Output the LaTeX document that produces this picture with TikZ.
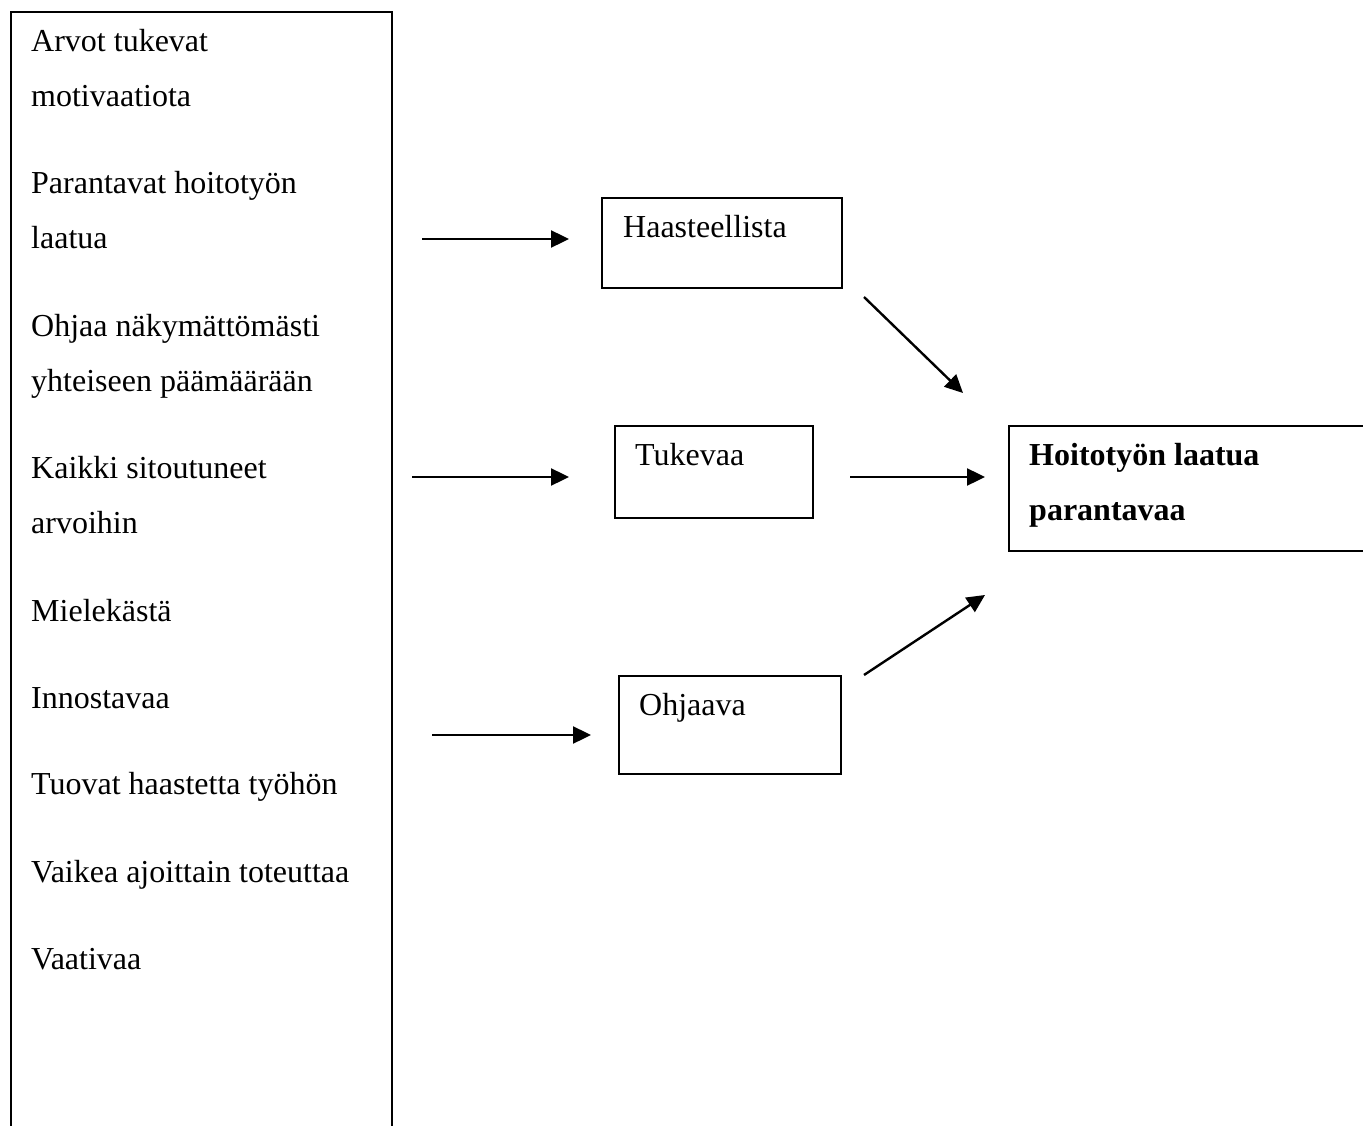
\documentclass[tikz,border=0pt]{standalone}
\usepackage{fontspec}
\setmainfont{Liberation Serif}
\usetikzlibrary{arrows.meta}
\begin{document}
\begin{tikzpicture}[x=1pt,y=-1pt,
  every node/.style={font=\fontsize{32}{38}\selectfont, inner sep=0pt},
  txt/.style={anchor=base west},
  framebox/.style={draw, line width=2pt, anchor=north west},
  arr/.style={line width=2.4pt, -{Triangle[length=18pt,width=17pt]}}]
\useasboundingbox (0,0) rectangle (1363,1126);
\clip (0,0) rectangle (1363,1126);
\fill[white] (0,0) rectangle (1363,1126);

% value list (open at the bottom of the page)
\node[framebox, line width=2.4pt, minimum width=381pt, minimum height=1200pt] (vals) at (10,11) {};
\node[txt] (v1a) at (31,52)  {Arvot tukevat};
\node[txt] (v1b) at (31,107) {motivaatiota};
\node[txt] (v2a) at (31,194) {Parantavat hoitotyön};
\node[txt] (v2b) at (31,249) {laatua};
\node[txt] (v3a) at (31,336) {Ohjaa näkymättömästi};
\node[txt] (v3b) at (31,391) {yhteiseen päämäärään};
\node[txt] (v4a) at (31,478) {Kaikki sitoutuneet};
\node[txt] (v4b) at (31,533) {arvoihin};
\node[txt] (v5)  at (31,621) {Mielekästä};
\node[txt] (v6)  at (31,708) {Innostavaa};
\node[txt] (v7)  at (31,794) {Tuovat haastetta työhön};
\node[txt] (v8)  at (31,882) {Vaikea ajoittain toteuttaa};
\node[txt] (v9)  at (31,969) {Vaativaa};

% middle boxes
\node[framebox, minimum width=240pt, minimum height=90pt] (hs) at (601,197) {};
\node[txt] (hst) at (623,237) {Haasteellista};
\node[framebox, minimum width=198pt, minimum height=92pt] (tk) at (614,425) {};
\node[txt] (tkt) at (635,465) {Tukevaa};
\node[framebox, minimum width=222pt, minimum height=98pt] (oh) at (618,675) {};
\node[txt] (oht) at (639,715) {Ohjaava};

% result box (runs past the right edge)
\node[framebox, minimum width=400pt, minimum height=125pt] (res) at (1008,425) {};
\node[txt, font=\fontsize{32}{38}\selectfont\bfseries] (res1) at (1029,465) {Hoitotyön laatua};
\node[txt, font=\fontsize{32}{38}\selectfont\bfseries] (res2) at (1029,520) {parantavaa};

% arrow end points
\coordinate (a1s) at (422,239);
\coordinate (a1e) at (569,239);
\coordinate (a2s) at (412,477);
\coordinate (a2e) at (569,477);
\coordinate (a3s) at (432,735);
\coordinate (a3e) at (591,735);
\coordinate (a4s) at (864,297);
\coordinate (a4e) at (963,393);
\coordinate (a5s) at (850,477);
\coordinate (a5e) at (985,477);
\coordinate (a6s) at (864,675);
\coordinate (a6e) at (985,595);

\draw[arr] (a1s) -- (a1e);
\draw[arr] (a2s) -- (a2e);
\draw[arr] (a3s) -- (a3e);
\draw[arr] (a4s) -- (a4e);
\draw[arr] (a5s) -- (a5e);
\draw[arr] (a6s) -- (a6e);
\end{tikzpicture}
\end{document}
